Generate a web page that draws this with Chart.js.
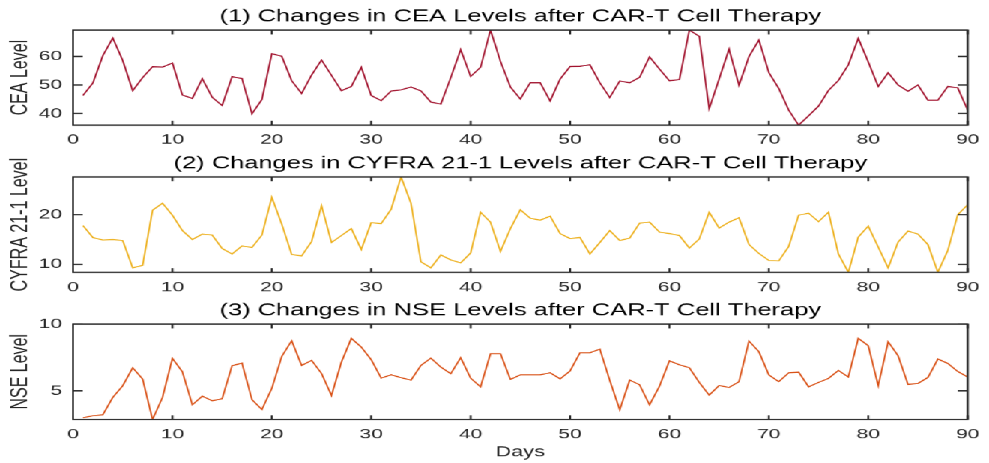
<!DOCTYPE html>
<html>
<head>
<meta charset="utf-8">
<script src="https://cdn.jsdelivr.net/npm/chart.js@4.4.1/dist/chart.umd.min.js"></script>
<style>
  html, body { margin: 0; padding: 0; background: #fff; overflow: hidden; }
  /* the reference figure is stretched horizontally, so draw narrow and scale X */
  #fig { position: absolute; left: 0; top: 0; width: 660px; height: 463px;
         transform-origin: 0 0; transform: scaleX(1.4985); }
  #fig canvas { position: absolute; left: 0; top: 0; }
</style>
</head>
<body>
<div id="fig">
  <canvas id="cea" width="660" height="463"></canvas>
  <canvas id="cyfra" width="660" height="463"></canvas>
  <canvas id="nse" width="660" height="463"></canvas>
</div>
<script>
/* Three stacked tumour-marker panels (CEA / CYFRA 21-1 / NSE) over 90 days. */

const DAYS = [
  1, 2, 3, 4, 5, 6, 7, 8, 9, 10, 11, 12, 13, 14, 15, 16, 17, 18, 19, 20,
  21, 22, 23, 24, 25, 26, 27, 28, 29, 30, 31, 32, 33, 34, 35, 36, 37, 38, 39, 40,
  41, 42, 43, 44, 45, 46, 47, 48, 49, 50, 51, 52, 53, 54, 55, 56, 57, 58, 59, 60,
  61, 62, 63, 64, 65, 66, 67, 68, 69, 70, 71, 72, 73, 74, 75, 76, 77, 78, 79, 80,
  81, 82, 83, 84, 85, 86, 87, 88, 89, 90,
];

const CEA = [
  46.3, 50.7, 60.3, 66.5, 58.6, 48.0, 52.6, 56.4, 56.3, 57.7,
  46.5, 45.3, 52.2, 45.7, 42.8, 52.9, 52.3, 39.9, 44.9, 61.0,
  60.1, 51.5, 47.0, 53.5, 58.8, 53.4, 48.0, 49.5, 56.2, 46.3,
  44.5, 47.9, 48.3, 49.3, 47.9, 44.0, 43.3, 52.6, 62.4, 53.0,
  56.2, 69.3, 58.3, 49.3, 45.1, 50.8, 50.8, 44.4, 52.1, 56.5,
  56.6, 57.1, 50.8, 45.6, 51.4, 50.8, 52.7, 59.9, 55.6, 51.5,
  51.9, 69.3, 67.1, 41.7, 52.1, 62.6, 49.9, 60.0, 65.8, 54.4,
  48.8, 41.2, 35.9, 39.2, 42.6, 48.1, 51.6, 57.1, 66.4, 58.1,
  49.5, 54.3, 50.0, 47.8, 50.0, 44.7, 44.7, 49.5, 49.0, 41.2,
];

const CYFRA = [
  17.8, 15.4, 14.9, 15.0, 14.8, 9.3, 9.8, 20.9, 22.3, 19.9,
  16.8, 15.0, 16.1, 15.9, 13.2, 12.1, 13.7, 13.4, 15.9, 23.5,
  18.1, 12.0, 11.7, 14.6, 21.8, 14.4, 15.8, 17.2, 13.0, 18.4,
  18.2, 21.1, 27.6, 22.3, 10.5, 9.3, 11.9, 10.9, 10.3, 12.3,
  20.5, 18.5, 12.6, 17.2, 21.0, 19.3, 18.9, 19.7, 16.2, 15.2,
  15.4, 12.1, 14.4, 16.8, 14.8, 15.3, 18.3, 18.5, 16.5, 16.2,
  15.8, 13.3, 15.1, 20.5, 17.3, 18.5, 19.4, 14.0, 12.2, 10.8,
  10.7, 13.6, 19.9, 20.3, 18.6, 20.5, 12.1, 8.4, 15.5, 17.7,
  13.5, 9.3, 14.5, 16.7, 16.1, 14.0, 8.4, 12.8, 20.0, 22.0,
];

const NSE = [
  2.98, 3.13, 3.2, 4.5, 5.38, 6.73, 5.88, 2.85, 4.5, 7.43,
  6.43, 3.95, 4.6, 4.25, 4.4, 6.88, 7.08, 4.33, 3.6, 5.18,
  7.58, 8.75, 6.9, 7.28, 6.3, 4.65, 7.15, 8.93, 8.28, 7.33,
  5.95, 6.2, 5.98, 5.8, 6.9, 7.45, 6.78, 6.28, 7.48, 5.95,
  5.3, 7.78, 7.78, 5.85, 6.2, 6.2, 6.2, 6.35, 5.9, 6.48,
  7.85, 7.85, 8.13, 5.78, 3.58, 5.8, 5.45, 3.95, 5.35, 7.25,
  6.95, 6.73, 5.63, 4.68, 5.4, 5.25, 5.68, 8.73, 7.93, 6.2,
  5.68, 6.35, 6.4, 5.3, 5.63, 5.93, 6.53, 6.03, 8.93, 8.38,
  5.38, 8.68, 7.63, 5.48, 5.55, 6.0, 7.38, 7.05, 6.45, 6.03,
];

const X_TICKS = [0, 10, 20, 30, 40, 50, 60, 70, 80, 90];
const CEA_TICKS = [40, 50, 60];
const CYFRA_TICKS = [10, 20];
const NSE_TICKS = [5, 10];

const TITLES = [
  '(1) Changes in CEA Levels after CAR-T Cell Therapy',
  '(2) Changes in CYFRA 21-1 Levels after CAR-T Cell Therapy',
  '(3) Changes in NSE Levels after CAR-T Cell Therapy',
];
const Y_TITLES = ['CEA Level', 'CYFRA 21-1 Level', 'NSE Level'];
const X_TITLE = 'Days';

const SX = 989 / 660;          // horizontal stretch of the whole figure
const AX_LEFT = 73 / SX;       // plot-area left edge in unstretched px
const PAD_RIGHT = 660 - 974 / SX;
const INK = '#262626';

Chart.defaults.font.family = "'Liberation Sans', Arial, Helvetica, sans-serif";
Chart.defaults.color = INK;

// MATLAB-style box with inward ticks on all four sides
const boxPlugin = {
  id: 'box',
  afterDraw(chart) {
    const { ctx, chartArea: a, scales: { x, y } } = chart;
    ctx.save();
    ctx.strokeStyle = INK;
    ctx.lineWidth = 1.3;
    ctx.beginPath();
    x.ticks.forEach((t) => {
      const px = x.getPixelForValue(t.value);
      ctx.moveTo(px, a.bottom); ctx.lineTo(px, a.bottom - 4.3);
      ctx.moveTo(px, a.top); ctx.lineTo(px, a.top + 4.3);
    });
    y.ticks.forEach((t) => {
      const py = y.getPixelForValue(t.value);
      ctx.moveTo(a.left, py); ctx.lineTo(a.left + 6.5, py);
      ctx.moveTo(a.right, py); ctx.lineTo(a.right - 6.5, py);
    });
    ctx.stroke();
    ctx.strokeRect(a.left, a.top, a.right - a.left, a.bottom - a.top);
    ctx.restore();
  },
};

function panel(id, p) {
  return new Chart(document.getElementById(id), {
    type: 'line',
    data: {
      datasets: [{
        data: DAYS.map((d, i) => ({ x: d, y: p.values[i] })),
        borderColor: p.color,
        borderWidth: 1.1,
        pointRadius: 0,
        tension: 0,
        fill: false,
      }],
    },
    options: {
      responsive: false,
      animation: false,
      devicePixelRatio: SX,
      events: [],
      layout: { padding: { left: 0, right: PAD_RIGHT, top: p.padTop, bottom: p.padBottom } },
      plugins: {
        legend: { display: false },
        tooltip: { enabled: false },
        title: {
          display: true,
          fullSize: false,      // centre over the plot area, not the canvas
          text: p.title,
          color: '#000',
          font: { size: 17, weight: 'normal' },
          padding: { top: 0, bottom: 3.3 },
        },
      },
      scales: {
        x: {
          type: 'linear',
          min: 0,
          max: 90,
          grid: { display: false, drawTicks: false },
          border: { display: false },
          afterBuildTicks: (s) => { s.ticks = X_TICKS.map((v) => ({ value: v })); },
          afterFit: (s) => { s.height = p.xAxisH; },
          ticks: { padding: 6.5, font: { size: 14 }, maxRotation: 0, autoSkip: false },
          title: p.xTitle
            ? { display: true, text: p.xTitle, font: { size: 14.5 }, padding: 2.5 }
            : { display: false },
        },
        y: {
          min: p.yMin,
          max: p.yMax,
          grid: { display: false, drawTicks: false },
          border: { display: false },
          afterBuildTicks: (s) => { s.ticks = p.yTicks.map((v) => ({ value: v })); },
          afterFit: (s) => { s.width = AX_LEFT; },
          ticks: { padding: 7.3, font: { size: 14 } },
          title: { display: true, text: p.yTitle, font: { size: 16 }, padding: 4.3 },
        },
      },
    },
    plugins: [boxPlugin],
  });
}

// axis limits are tight to the data, like the source figure
panel('cea', {
  title: TITLES[0], yTitle: Y_TITLES[0], values: CEA, color: '#A2142F',
  yMin: Math.min(...CEA), yMax: Math.max(...CEA), yTicks: CEA_TICKS,
  padTop: 6.3, padBottom: 463 - 125 - 26, xAxisH: 26,
});
panel('cyfra', {
  title: TITLES[1], yTitle: Y_TITLES[1], values: CYFRA, color: '#EDB120',
  yMin: Math.min(...CYFRA), yMax: Math.max(...CYFRA), yTicks: CYFRA_TICKS,
  padTop: 153, padBottom: 463 - 272 - 26, xAxisH: 26,
});
panel('nse', {
  title: TITLES[2], yTitle: Y_TITLES[2], values: NSE, color: '#D95319',
  yMin: Math.min(...NSE), yMax: 10, yTicks: NSE_TICKS,
  padTop: 300, padBottom: 0, xAxisH: 44, xTitle: X_TITLE,
});
</script>
</body>
</html>
